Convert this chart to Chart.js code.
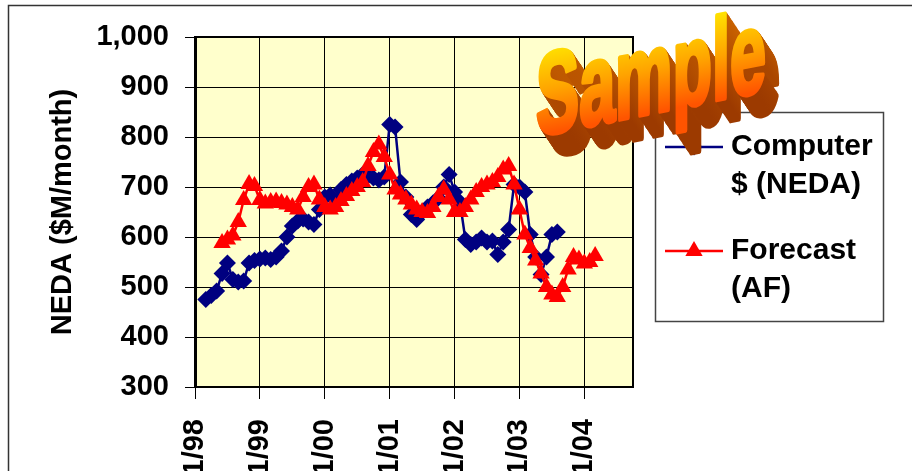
<!DOCTYPE html>
<html>
<head>
<meta charset="utf-8">
<script src="https://cdn.jsdelivr.net/npm/chart.js@4.4.0/dist/chart.umd.min.js"></script>
<style>
  html, body { margin:0; padding:0; background:#fff; overflow:hidden; }
  #wrap { position:relative; width:912px; height:540px; }
</style>
</head>
<body>
<div id="wrap"><canvas id="chart" width="912" height="540"></canvas></div>
<script>
// months counted from Jan-98 (0 = 1/98)
const tickMonths = [0, 12, 24, 36, 48, 60, 72]
const tickLabels = ["1/98", "1/99", "1/00", "1/01", "1/02", "1/03", "1/04"]

const computerStart = 2   // Mar-98
const computerValues = [
  475,483,492,527,548,515,510,512,548,553,
  556,558,555,560,572,600,622,632,636,630,
  625,655,680,684,672,695,705,712,718,725,
  722,718,714,720,825,820,710,680,645,635,
  650,660,668,678,700,725,690,670,595,585,
  590,598,590,592,565,590,615,705,700,690,
  605,560,525,560,605,610
]

const forecastStart = 5   // Jun-98
const forecastValues = [
  588,595,603,630,674,706,702,674,667,670,
  671,668,665,660,655,680,700,705,675,660,
  655,660,672,682,692,700,710,742,770,785,
  760,725,695,685,675,665,655,650,648,660,
  680,695,675,650,650,660,675,690,700,705,
  710,720,735,742,705,655,605,578,553,527,
  500,485,480,500,535,560,555,547,550,562
]

const FONT = "'Liberation Sans', Arial, sans-serif"
const bold = (size) => ({family: FONT, size: size, weight: 'bold'})
const toPoints = (start, vals) => vals.map((v, i) => ({x: start + i, y: v}))

const drawMarker = function(c, style, x, y, r, color){
    c.fillStyle = color
    c.beginPath()
    if(style == 'rectRot'){
        c.moveTo(x, y - r); c.lineTo(x + r, y); c.lineTo(x, y + r); c.lineTo(x - r, y)
    } else {
        c.moveTo(x, y - r); c.lineTo(x + r * 0.866, y + r / 2); c.lineTo(x - r * 0.866, y + r / 2)
    }
    c.closePath()
    c.fill()
}

const framePlugin = {
    id: 'frame',
    beforeDraw(chart){
        const c = chart.ctx, a = chart.chartArea
        c.save()
        c.fillStyle = '#fff'
        c.fillRect(0, 0, chart.width, chart.height)
        c.strokeStyle = '#333'
        c.lineWidth = 1.5
        c.strokeRect(8.5, 5.5, 1000, 1000)
        c.fillStyle = '#FFFFCC'
        c.fillRect(a.left, a.top, a.right - a.left, a.bottom - a.top)
        c.restore()
    },
    beforeDatasetsDraw(chart){
        const c = chart.ctx, a = chart.chartArea
        c.save()
        c.strokeStyle = '#000'
        c.lineWidth = 2
        c.strokeRect(a.left, a.top, a.right - a.left, a.bottom - a.top)
        c.restore()
    }
}

const legendPlugin = {
    id: 'boxLegend',
    afterDraw(chart){
        const c = chart.ctx
        const ds = chart.data.datasets
        c.save()
        c.fillStyle = '#fff'
        c.fillRect(655.5, 112.5, 228, 209)
        c.strokeStyle = '#444'
        c.lineWidth = 1.5
        c.strokeRect(655.5, 112.5, 228, 209)

        const rows = [
            {ds: ds[0], y: 147, r: 8.5, lines: ['Computer', '$ (NEDA)']},
            {ds: ds[1], y: 251, r: 10, lines: ['Forecast', '(AF)']}
        ]
        rows.forEach(row => {
            c.strokeStyle = row.ds.borderColor
            c.lineWidth = 2.5
            c.beginPath()
            c.moveTo(665, row.y)
            c.lineTo(723, row.y)
            c.stroke()
            drawMarker(c, row.ds.pointStyle, 694, row.y, row.r, row.ds.borderColor)
            c.fillStyle = '#000'
            c.font = 'bold 30px ' + FONT
            c.textBaseline = 'middle'
            c.textAlign = 'left'
            row.lines.forEach((t, i) => c.fillText(t, 731, row.y + i * 38))
        })
        c.restore()
    }
}

const samplePlugin = {
    id: 'sample',
    afterDraw(chart){
        const c = chart.ctx
        const text = 'Sample'
        c.save()
        c.font = 'bold 116px ' + FONT
        c.textBaseline = 'alphabetic'
        c.lineJoin = 'round'
        const sx = 230 / c.measureText(text).width
        const place = (dx, dy) => {
            c.setTransform(1, 0, 0, 1, 0, 0)
            c.translate(536 + dx, 136 + dy)
            c.transform(1, -0.2, 0, 1, 0, 0)
            c.scale(sx, 1)
        }
        // extruded sides
        for(let i = 20; i >= 1; i--){
            place(i * 0.7, i * 1.05)
            const g = c.createLinearGradient(0, -100, 0, 0)
            g.addColorStop(0, '#D06800')
            g.addColorStop(1, '#9C3A00')
            c.fillStyle = g
            c.strokeStyle = g
            c.lineWidth = 5
            c.strokeText(text, 0, 0)
            c.fillText(text, 0, 0)
        }
        // front face
        place(0, 0)
        const g = c.createLinearGradient(0, -88, 0, 0)
        g.addColorStop(0, '#FFE400')
        g.addColorStop(0.5, '#FFA400')
        g.addColorStop(1, '#FF5400')
        c.fillStyle = g
        c.strokeStyle = g
        c.lineWidth = 5
        c.strokeText(text, 0, 0)
        c.fillText(text, 0, 0)
        c.restore()
    }
}

const ctx = document.getElementById('chart').getContext('2d')
const chart = new Chart(ctx, {
    type: 'line',
    data: {
        datasets: [{
            label: 'Computer $ (NEDA)',
            data: toPoints(computerStart, computerValues),
            borderColor: '#000080',
            backgroundColor: '#000080',
            pointBackgroundColor: '#000080',
            pointBorderColor: '#000080',
            borderWidth: 2.5,
            pointStyle: 'rectRot',
            pointRadius: 8.5,
            pointBorderWidth: 0,
            tension: 0,
            order: 1
        }, {
            label: 'Forecast (AF)',
            data: toPoints(forecastStart, forecastValues),
            borderColor: '#FF0000',
            backgroundColor: '#FF0000',
            pointBackgroundColor: '#FF0000',
            pointBorderColor: '#FF0000',
            borderWidth: 2.5,
            pointStyle: 'triangle',
            pointRadius: 10,
            pointBorderWidth: 0,
            tension: 0,
            order: 0
        }]
    },
    options: {
        responsive: false,
        animation: false,
        devicePixelRatio: 1,
        layout: { padding: {top: 37, right: 279, left: 0, bottom: 0} },
        plugins: { legend: {display: false}, tooltip: {enabled: false} },
        scales: {
            x: {
                type: 'linear',
                min: 0,
                max: 81,
                afterBuildTicks: s => { s.ticks = tickMonths.map(v => ({value: v})) },
                afterFit: s => { s.height = 153 },
                ticks: {
                    autoSkip: false,
                    maxRotation: 90,
                    minRotation: 90,
                    padding: 20,
                    color: '#000',
                    font: bold(29),
                    callback: v => tickLabels[tickMonths.indexOf(v)]
                },
                grid: { color: '#000', lineWidth: 1, tickLength: 12 },
                border: { color: '#000', width: 2 }
            },
            y: {
                min: 300,
                max: 1000,
                afterFit: s => { s.width = 195 },
                ticks: {
                    stepSize: 100,
                    padding: 16,
                    color: '#000',
                    font: bold(29),
                    callback: v => v.toLocaleString('en-US')
                },
                grid: { color: '#000', lineWidth: 1, tickLength: 10 },
                border: { color: '#000', width: 3 },
                title: {
                    display: true,
                    text: 'NEDA ($M/month)',
                    color: '#000',
                    font: bold(29),
                    padding: {top: 46, bottom: 0}
                }
            }
        }
    },
    plugins: [framePlugin, legendPlugin, samplePlugin]
})
</script>
</body>
</html>
